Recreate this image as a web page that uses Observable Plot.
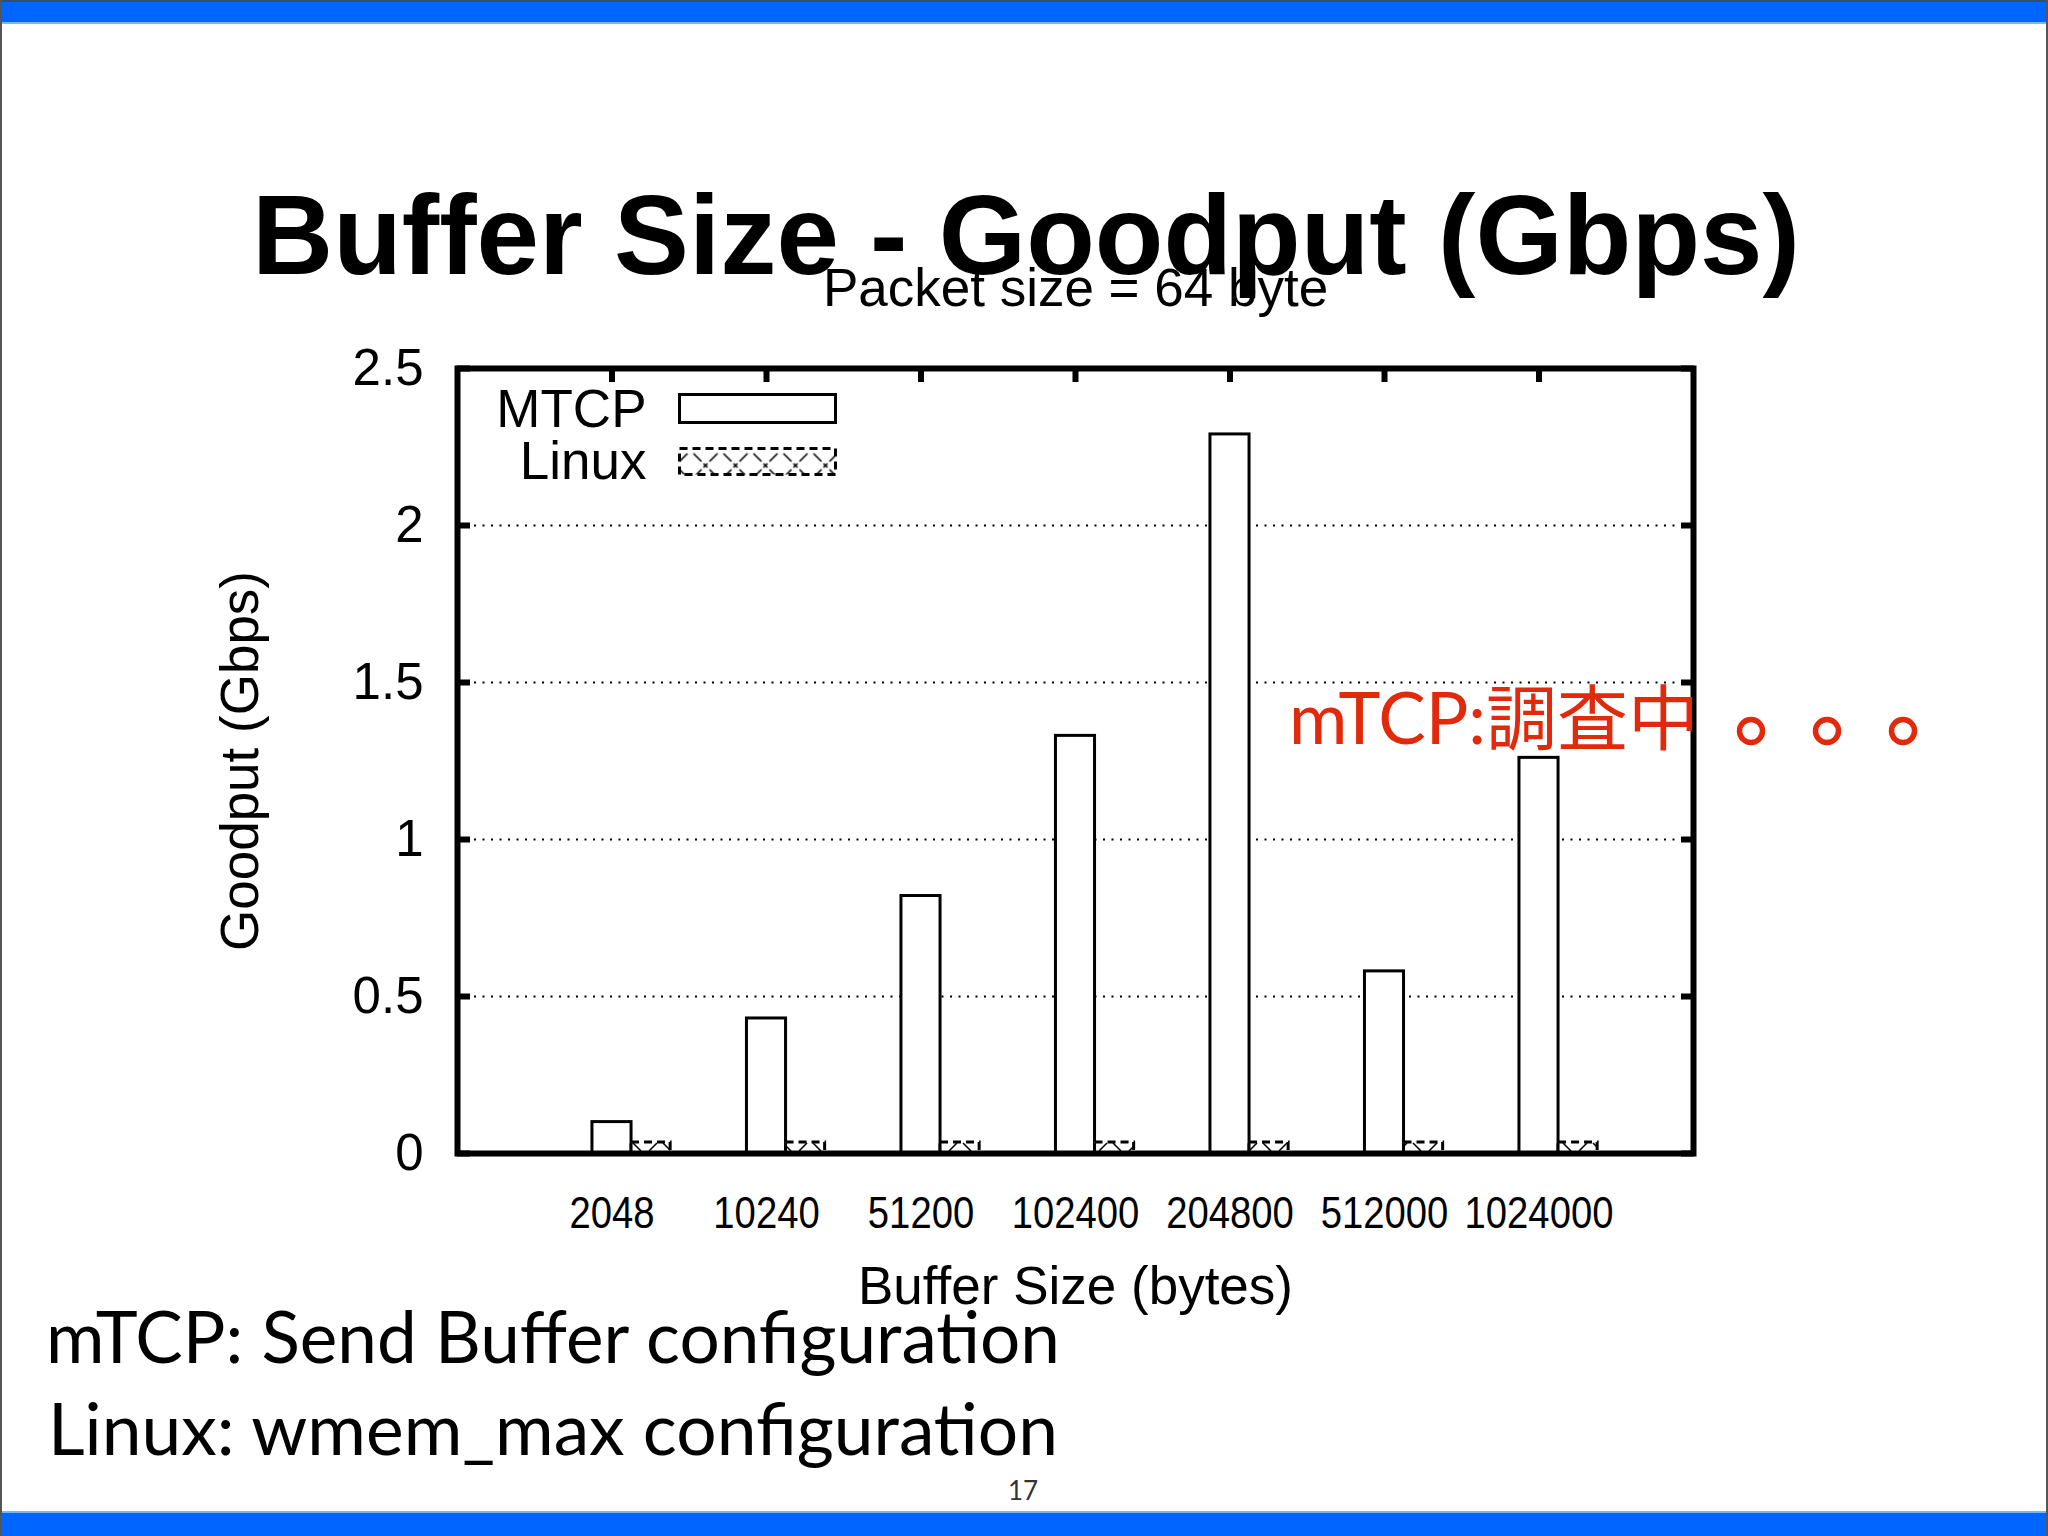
<!DOCTYPE html>
<html>
<head>
<meta charset="utf-8">
<script src="https://cdn.jsdelivr.net/npm/d3@7"></script>
<script src="https://cdn.jsdelivr.net/npm/@observablehq/plot@0.6"></script>
<style>
  html, body { margin: 0; padding: 0; background: #fff; }
  #page { position: relative; width: 2048px; height: 1536px; overflow: hidden; background: #fff; }
  #back, #chart, #front { position: absolute; left: 0; top: 0; }
  #front { pointer-events: none; }
</style>
</head>
<body>
<div id="page">
  <svg id="back" width="2048" height="1536"></svg>
  <div id="chart"></div>
  <svg id="front" width="2048" height="1536"></svg>
</div>
<script>
// ---- data ----
const categories = ["2048", "10240", "51200", "102400", "204800", "512000", "1024000"];
const mtcpValues = [0.10, 0.43, 0.82, 1.33, 2.29, 0.58, 1.26];
const linuxValues = [0.035, 0.035, 0.035, 0.035, 0.035, 0.035, 0.035];
const yTicks = [0, 0.5, 1, 1.5, 2, 2.5];
const gridTicks = [0.5, 1, 1.5, 2];
const seriesNames = ["MTCP", "Linux"];
const chartTitle = "Packet size = 64 byte";
const xLabel = "Buffer Size (bytes)";
const yLabel = "Goodput (Gbps)";
const slideTitle = "Buffer Size - Goodput (Gbps)";
const noteMain = "mTCP:調査中";
const noteDots = ["。", "。", "。"];
const footLines = ["mTCP: Send Buffer configuration", "Linux: wmem_max configuration"];
const pageNumber = "17";

const data = categories.map((c, i) => ({i, c, mtcp: mtcpValues[i], linux: linuxValues[i]}));
const bw = 0.253; // bar width in category units

// pattern defs as a render-function mark
function patternDefs() {
  const ns = "http://www.w3.org/2000/svg";
  const defs = document.createElementNS(ns, "defs");
  const pat = document.createElementNS(ns, "pattern");
  pat.setAttribute("id", "xhatch");
  pat.setAttribute("patternUnits", "userSpaceOnUse");
  pat.setAttribute("width", "30");
  pat.setAttribute("height", "30");
  const bg = document.createElementNS(ns, "rect");
  bg.setAttribute("width", "30"); bg.setAttribute("height", "30"); bg.setAttribute("fill", "white");
  const p = document.createElementNS(ns, "path");
  p.setAttribute("d", "M3,3 L11,11 M19,19 L27,27 M27,3 L19,11 M11,19 L3,27 M13,13 L17,17 M17,13 L13,17");
  p.setAttribute("stroke", "black"); p.setAttribute("stroke-width", "1.6"); p.setAttribute("fill", "none");
  pat.appendChild(bg); pat.appendChild(p);
  defs.appendChild(pat);
  return defs;
}

const sans = "'Liberation Sans', Arial, Helvetica, sans-serif";
const xTickFont = 45;

const chart = Plot.plot({
  width: 2048,
  height: 1536,
  marginLeft: 457,
  marginRight: 355,
  marginTop: 368,
  marginBottom: 383,
  x: {type: "linear", domain: [-1, 7]},
  y: {domain: [0, 2.5]},
  style: {fontFamily: sans, background: "transparent", color: "black", overflow: "visible"},
  marks: [
    patternDefs,
    Plot.gridY(gridTicks, {stroke: "black", strokeOpacity: 1, strokeWidth: 2, strokeDasharray: "2,6.5"}),
    Plot.rect(data, {x1: d => d.i - bw / 2, x2: d => d.i + bw / 2, y1: 0, y2: "mtcp", fill: "white", stroke: "black", strokeWidth: 3}),
    Plot.rect(data, {x1: d => d.i + bw / 2, x2: d => d.i + 1.5 * bw, y1: 0, y2: "linux", fill: "url(#xhatch)", stroke: "black", strokeWidth: 3, strokeDasharray: "8,5"}),
    Plot.axisY(yTicks, {anchor: "left", tickSize: -13, tickPadding: 47, strokeWidth: 6, fontSize: 51, tickFormat: d => String(d), label: null}),
    Plot.axisY(yTicks, {anchor: "right", tickSize: -13, strokeWidth: 6, tickFormat: () => "", label: null}),
    Plot.axisX(d3.range(categories.length), {anchor: "top", tickSize: -13, strokeWidth: 6, tickFormat: () => "", label: null}),
    Plot.axisX(d3.range(categories.length), {anchor: "bottom", tickSize: 0, tickPadding: 43, fontSize: xTickFont, tickFormat: i => categories[i], label: null}),
    Plot.frame({stroke: "black", strokeWidth: 6}),
    // legend
    Plot.frame({insetLeft: 222, insetRight: 858, insetTop: 26, insetBottom: 731, stroke: "black", strokeWidth: 3, fill: "white"}),
    Plot.frame({insetLeft: 222, insetRight: 858, insetTop: 80, insetBottom: 679, stroke: "black", strokeWidth: 3, strokeDasharray: "8,5", fill: "url(#xhatch)"}),
    Plot.text([seriesNames[0]], {frameAnchor: "top-left", dx: 189, dy: 42, text: d => d, textAnchor: "end", lineAnchor: "middle", fontSize: 53}),
    Plot.text([seriesNames[1]], {frameAnchor: "top-left", dx: 189, dy: 94, text: d => d, textAnchor: "end", lineAnchor: "middle", fontSize: 53}),
    // titles / labels
    Plot.text([chartTitle], {frameAnchor: "top", dy: -79, text: d => d, textAnchor: "middle", lineAnchor: "middle", fontSize: 53}),
    Plot.text([xLabel], {frameAnchor: "bottom", dy: 134, text: d => d, textAnchor: "middle", lineAnchor: "middle", fontSize: 53}),
    Plot.text([yLabel], {frameAnchor: "left", dx: -216, rotate: -90, text: d => d, textAnchor: "middle", lineAnchor: "middle", fontSize: 53})
  ]
});
document.getElementById("chart").appendChild(chart);

// condense the x tick labels horizontally (the reference uses a narrow face)
const catSet = new Set(categories);
chart.querySelectorAll("text").forEach(t => {
  const s = t.textContent.trim();
  if (catSet.has(s)) {
    const target = s.length * 0.556 * xTickFont * 0.85;
    t.setAttribute("textLength", target.toFixed(1));
    t.setAttribute("lengthAdjust", "spacingAndGlyphs");
    t.querySelectorAll("tspan").forEach(ts => {
      ts.setAttribute("textLength", target.toFixed(1));
      ts.setAttribute("lengthAdjust", "spacingAndGlyphs");
    });
  }
});

// ---- slide decorations & text (behind the chart) ----
const bk = d3.select("#back");
bk.append("rect").attr("x", 0).attr("y", 0).attr("width", 2048).attr("height", 23).attr("fill", "#0066ff");
bk.append("rect").attr("x", 0).attr("y", 0).attr("width", 2048).attr("height", 2).attr("fill", "#3d4b66");
bk.append("rect").attr("x", 0).attr("y", 22).attr("width", 2048).attr("height", 2).attr("fill", "#7fb2ff");
bk.append("rect").attr("x", 0).attr("y", 1512).attr("width", 2048).attr("height", 24).attr("fill", "#0066ff");
bk.append("rect").attr("x", 0).attr("y", 1511).attr("width", 2048).attr("height", 2).attr("fill", "#7fb2ff");
bk.append("rect").attr("x", 0).attr("y", 0).attr("width", 2).attr("height", 1536).attr("fill", "#555");
bk.append("rect").attr("x", 2046).attr("y", 0).attr("width", 2).attr("height", 1536).attr("fill", "#555");

bk.append("text").attr("x", 1026).attr("y", 274).attr("text-anchor", "middle")
  .attr("font-family", sans).attr("font-weight", "bold")
  .attr("font-size", 113).attr("textLength", 1548).attr("lengthAdjust", "spacingAndGlyphs")
  .attr("fill", "black").text(slideTitle);

bk.append("text").attr("x", 46).attr("y", 1363)
  .attr("font-family", "Lato, 'Open Sans', sans-serif")
  .attr("font-size", 72).attr("textLength", 1014).attr("lengthAdjust", "spacingAndGlyphs")
  .attr("fill", "black").text(footLines[0]);
bk.append("text").attr("x", 48).attr("y", 1455)
  .attr("font-family", "Lato, 'Open Sans', sans-serif")
  .attr("font-size", 72).attr("textLength", 1010).attr("lengthAdjust", "spacingAndGlyphs")
  .attr("fill", "black").text(footLines[1]);

bk.append("text").attr("x", 1023).attr("y", 1500).attr("text-anchor", "middle")
  .attr("font-family", "Lato, sans-serif").attr("font-size", 26).attr("fill", "#333").text(pageNumber);

// ---- red note (on top of the chart) ----
const fr = d3.select("#front");
const note = fr.append("text").attr("x", 1289).attr("y", 744)
  .attr("font-family", "Lato, 'Noto Sans CJK JP', sans-serif")
  .attr("font-size", 71).attr("fill", "#e1290b");
note.append("tspan").text(noteMain);
const dotCenters = [1751, 1827, 1903];
noteDots.forEach((d, k) => {
  fr.append("circle").attr("cx", dotCenters[k]).attr("cy", 731).attr("r", 11.5)
    .attr("fill", "none").attr("stroke", "#e1290b").attr("stroke-width", 5.5)
    .append("title").text(d);
});
</script>
</body>
</html>
